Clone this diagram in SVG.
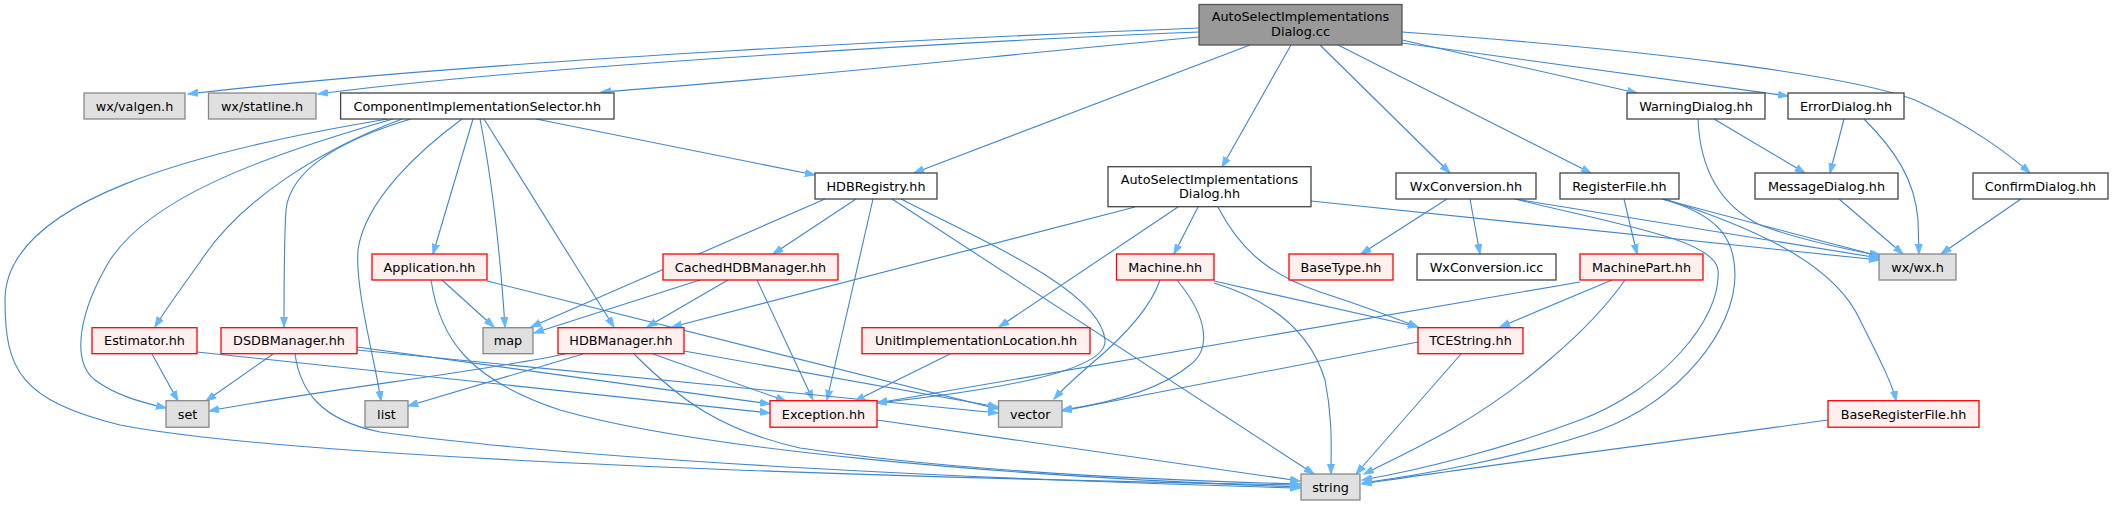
<svg xmlns="http://www.w3.org/2000/svg" width="2114" height="505" viewBox="0 0 2114 505">
<style>
.n rect{fill:#ffffff;stroke:#444444;stroke-width:1.3}
.g rect{fill:#e0e0e0;stroke:#888888;stroke-width:1.3}
.r rect{fill:#fff0f0;stroke:#ff0000;stroke-width:1.3}
.m rect{fill:#999999;stroke:#555555;stroke-width:1.3}
text{font-family:"DejaVu Sans","Liberation Sans",sans-serif;font-size:12.8px;fill:#000;text-anchor:middle}
#edges path{fill:none;stroke:#3f86cc;stroke-width:1.1;marker-end:url(#a)}
</style>
<defs>
<marker id="a" markerWidth="12" markerHeight="9" refX="10" refY="4" orient="auto" markerUnits="userSpaceOnUse">
<path d="M0,0.5 L10,4 L0,7.5 z" fill="#63b8ff" stroke="#63b8ff" stroke-width="1"/>
</marker>
</defs>
<rect x="0" y="0" width="2114" height="505" fill="#ffffff"/>
<g id="edges">
<path d="M1199,28 C1000,36 500,58 188,94"/>
<path d="M1199,32 C1000,40 550,64 318,94"/>
<path d="M1199,37 C1000,55 800,78 601,92"/>
<path d="M1250,45 L914,173"/>
<path d="M1291,45 L1222,167"/>
<path d="M1320,45 L1450,173"/>
<path d="M1338,45 L1591,173"/>
<path d="M1402,40 L1637,93"/>
<path d="M1402,43 L1788,96"/>
<path d="M1402,32 C1650,50 1850,75 1915,100 C1970,125 2010,155 2030,173"/>
<path d="M388,119 C200,150 5,200 5,300 C5,370 20,400 120,425 C300,460 900,478 1300,485"/>
<path d="M393,119 C250,160 150,200 110,260 C80,310 70,360 95,380 C115,395 140,402 166,408"/>
<path d="M402,119 C320,150 240,200 200,262 C180,290 165,310 155,327"/>
<path d="M411,119 C340,140 290,170 286,210 C284,240 284,290 284,327"/>
<path d="M462,119 C420,150 365,200 358,250 C355,290 375,360 381,401"/>
<path d="M473,119 L433,254"/>
<path d="M480,119 C492,180 500,250 505,327"/>
<path d="M484,119 L614,327"/>
<path d="M536,119 L815,175"/>
<path d="M825,199 L531,327"/>
<path d="M856,199 L773,254"/>
<path d="M873,199 L827,400"/>
<path d="M892,199 L1314,474"/>
<path d="M901,199 C980,240 1100,290 1105,340 C1108,370 1000,390 877,403"/>
<path d="M1135,207 L672,327"/>
<path d="M1178,207 L999,327"/>
<path d="M1198,207 L1174,254"/>
<path d="M1218,207 C1240,250 1270,275 1320,292 C1360,305 1395,318 1418,327"/>
<path d="M1311,201 L1879,260"/>
<path d="M1447,199 L1361,254"/>
<path d="M1470,199 L1480,254"/>
<path d="M1515,199 L1879,258"/>
<path d="M1515,199 C1620,225 1715,240 1718,270 C1722,320 1660,390 1580,420 C1500,450 1420,470 1362,480"/>
<path d="M1624,199 L1637,254"/>
<path d="M1662,199 L1879,256"/>
<path d="M1665,199 C1760,230 1835,265 1860,320 C1880,360 1893,385 1896,401"/>
<path d="M1662,199 C1720,215 1735,240 1735,275 C1735,330 1680,400 1600,430 C1520,458 1420,475 1362,483"/>
<path d="M1714,119 L1805,173"/>
<path d="M1698,119 C1700,170 1720,205 1760,225 C1800,240 1850,250 1882,256"/>
<path d="M1844,119 L1830,173"/>
<path d="M1864,119 C1895,150 1915,180 1918,220 L1919,254"/>
<path d="M1839,199 L1903,254"/>
<path d="M2021,199 L1941,254"/>
<path d="M442,280 L494,327"/>
<path d="M431,280 C440,340 470,380 560,410 C700,450 1000,476 1300,487"/>
<path d="M487,281 L998,409"/>
<path d="M700,280 L534,333"/>
<path d="M728,280 L647,327"/>
<path d="M757,280 L813,400"/>
<path d="M152,354 L178,401"/>
<path d="M197,352 L770,413"/>
<path d="M273,354 L206,401"/>
<path d="M295,354 C300,390 320,420 380,432 C600,462 1000,480 1300,488"/>
<path d="M357,347 L770,404"/>
<path d="M357,350 L998,413"/>
<path d="M565,354 C480,372 320,390 209,411"/>
<path d="M583,354 L408,406"/>
<path d="M634,354 C680,400 720,430 800,448 C950,470 1150,480 1300,484"/>
<path d="M653,354 L786,401"/>
<path d="M684,351 L998,407"/>
<path d="M950,354 L855,401"/>
<path d="M1160,280 C1150,310 1120,340 1090,365 C1075,378 1062,390 1054,399"/>
<path d="M1177,280 C1210,320 1210,350 1190,365 C1160,390 1110,403 1062,410"/>
<path d="M1214,283 C1270,300 1310,330 1325,380 C1333,420 1331,450 1331,474"/>
<path d="M1214,281 L1418,327"/>
<path d="M1580,282 L877,403"/>
<path d="M1612,280 L1500,327"/>
<path d="M1625,280 C1590,330 1520,390 1450,430 C1410,452 1380,466 1364,474"/>
<path d="M1418,342 L1062,411"/>
<path d="M1461,354 L1356,474"/>
<path d="M877,420 L1300,481"/>
<path d="M1828,420 C1650,445 1450,470 1362,484"/>
</g>
<g id="n_cc" class="m"><rect x="1199" y="4.5" width="203" height="40.5"/><text x="1300.5" y="21.3">AutoSelectImplementations</text><text x="1300.5" y="35.5">Dialog.cc</text></g>
<g id="n_valgen" class="g"><rect x="84" y="93" width="101" height="26"/><text x="134.5" y="110.5">wx/valgen.h</text></g>
<g id="n_statline" class="g"><rect x="208.5" y="93" width="107.5" height="26"/><text x="262" y="110.5">wx/statline.h</text></g>
<g id="n_cis" class="n"><rect x="340.6" y="93" width="273.4" height="26"/><text x="477.3" y="110.5">ComponentImplementationSelector.hh</text></g>
<g id="n_warning" class="n"><rect x="1627" y="93" width="138" height="26"/><text x="1696" y="110.5">WarningDialog.hh</text></g>
<g id="n_error" class="n"><rect x="1788" y="93" width="116" height="26"/><text x="1846" y="110.5">ErrorDialog.hh</text></g>
<g id="n_hdbreg" class="n"><rect x="815" y="173" width="122" height="26"/><text x="876" y="190.5">HDBRegistry.hh</text></g>
<g id="n_ash" class="n"><rect x="1108" y="166.7" width="203" height="40"/><text x="1209.5" y="184">AutoSelectImplementations</text><text x="1209.5" y="198">Dialog.hh</text></g>
<g id="n_wxconv" class="n"><rect x="1396" y="173" width="140" height="26"/><text x="1466" y="190.5">WxConversion.hh</text></g>
<g id="n_regfile" class="n"><rect x="1560" y="173" width="119" height="26"/><text x="1619.5" y="190.5">RegisterFile.hh</text></g>
<g id="n_msg" class="n"><rect x="1755" y="173" width="143" height="26"/><text x="1826.5" y="190.5">MessageDialog.hh</text></g>
<g id="n_confirm" class="n"><rect x="1973" y="173" width="135" height="26"/><text x="2040.5" y="190.5">ConfirmDialog.hh</text></g>
<g id="n_app" class="r"><rect x="372" y="254" width="115" height="26"/><text x="429.5" y="271.5">Application.hh</text></g>
<g id="n_cached" class="r"><rect x="663" y="254" width="175" height="26"/><text x="750.5" y="271.5">CachedHDBManager.hh</text></g>
<g id="n_machine" class="r"><rect x="1116.5" y="254" width="97.5" height="26"/><text x="1165.2" y="271.5">Machine.hh</text></g>
<g id="n_basetype" class="r"><rect x="1289" y="254" width="104" height="26"/><text x="1341" y="271.5">BaseType.hh</text></g>
<g id="n_icc" class="n"><rect x="1417" y="254" width="139" height="26"/><text x="1486.5" y="271.5">WxConversion.icc</text></g>
<g id="n_machinepart" class="r"><rect x="1580" y="254" width="123" height="26"/><text x="1641.5" y="271.5">MachinePart.hh</text></g>
<g id="n_wxh" class="g"><rect x="1879" y="254" width="77" height="26"/><text x="1917.5" y="271.5">wx/wx.h</text></g>
<g id="n_estimator" class="r"><rect x="92" y="327.7" width="105" height="26"/><text x="144.5" y="345.2">Estimator.hh</text></g>
<g id="n_dsdb" class="r"><rect x="221" y="327.7" width="136" height="26"/><text x="289" y="345.2">DSDBManager.hh</text></g>
<g id="n_map" class="g"><rect x="483" y="327.7" width="50" height="26"/><text x="508" y="345.2">map</text></g>
<g id="n_hdbman" class="r"><rect x="558" y="327.7" width="126" height="26"/><text x="621" y="345.2">HDBManager.hh</text></g>
<g id="n_uil" class="r"><rect x="862" y="327.7" width="228" height="26"/><text x="976" y="345.2">UnitImplementationLocation.hh</text></g>
<g id="n_tcestring" class="r"><rect x="1418" y="327.7" width="105" height="26"/><text x="1470.5" y="345.2">TCEString.hh</text></g>
<g id="n_set" class="g"><rect x="166" y="400.7" width="43" height="26.5"/><text x="187.5" y="418.5">set</text></g>
<g id="n_list" class="g"><rect x="365" y="400.7" width="43" height="26.5"/><text x="386.5" y="418.5">list</text></g>
<g id="n_exception" class="r"><rect x="770" y="400.7" width="107" height="26.5"/><text x="823.5" y="418.5">Exception.hh</text></g>
<g id="n_vector" class="g"><rect x="998.5" y="400.7" width="63.5" height="26.5"/><text x="1030.2" y="418.5">vector</text></g>
<g id="n_baseregfile" class="r"><rect x="1828" y="400.7" width="151" height="26.5"/><text x="1903.5" y="418.5">BaseRegisterFile.hh</text></g>
<g id="n_string" class="g"><rect x="1301" y="474" width="59" height="26"/><text x="1330.5" y="491.5">string</text></g>
</svg>
